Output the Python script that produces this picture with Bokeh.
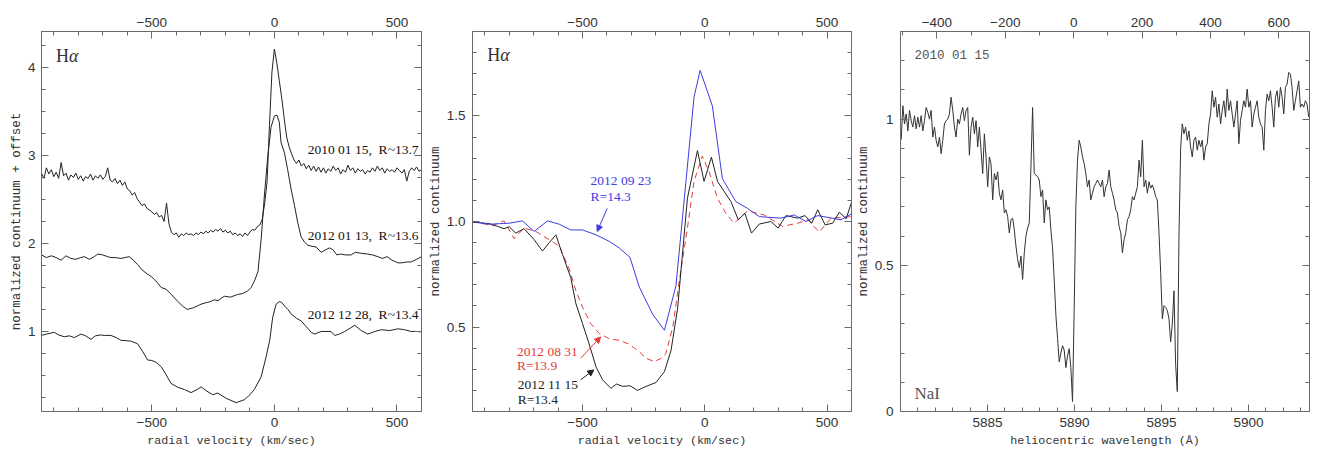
import numpy as np
from bokeh.plotting import figure
from bokeh.layouts import row
from bokeh.models import (Range1d, LinearAxis, SingleIntervalTicker, FixedTicker,
                          CustomJSTickFormatter, Label, Arrow, NormalHead)
from bokeh.embed import file_html
from bokeh.resources import INLINE

# ---------------- Panel 1 data: H-alpha, normalized continuum + offset ----------------
# 2010 01 15 spectrum sampled every 10 km/s from -950 to 600
v2010_start, v2010_step = -950, 10
flux_2010 = [
    2.80, 2.74, 2.86, 2.79, 2.84, 2.76, 2.81, 2.74, 2.92, 2.77,
    2.80, 2.72, 2.78, 2.75, 2.80, 2.73, 2.77, 2.71, 2.76, 2.74,
    2.79, 2.72, 2.77, 2.74, 2.78, 2.73, 2.76, 2.86, 2.72, 2.70,
    2.74, 2.68, 2.72, 2.66, 2.70, 2.62, 2.60, 2.55, 2.58, 2.51,
    2.47, 2.43, 2.45, 2.40, 2.38, 2.36, 2.33, 2.35, 2.30, 2.32,
    2.25, 2.46, 2.22, 2.13, 2.10, 2.12, 2.07, 2.11, 2.09, 2.12,
    2.10, 2.11, 2.09, 2.12, 2.10, 2.13, 2.11, 2.14, 2.12, 2.15,
    2.13, 2.16, 2.14, 2.17, 2.13, 2.15, 2.12, 2.14, 2.10, 2.12,
    2.09, 2.11, 2.08, 2.12, 2.09, 2.13, 2.16, 2.15, 2.19, 2.21,
    2.27, 2.45, 2.70, 3.35, 3.95, 4.21, 4.05, 3.85, 3.65, 3.42,
    3.21, 3.10, 3.02, 2.95, 2.91, 2.95, 2.88, 2.91, 2.85, 2.89,
    2.83, 2.88, 2.82, 2.87, 2.81, 2.86, 2.80, 2.85, 2.82, 2.88,
    2.83, 2.86, 2.79, 2.84, 2.81, 2.89, 2.83, 2.86, 2.80, 2.85,
    2.82, 2.84, 2.79, 2.83, 2.81, 2.86, 2.82, 2.88, 2.83, 2.86,
    2.80, 2.85, 2.82, 2.84, 2.81, 2.86, 2.83, 2.80, 2.84, 2.71,
    2.82, 2.86, 2.83, 2.87, 2.82, 2.84,
]
v_2010 = v2010_start + v2010_step * np.arange(len(flux_2010))

v_2012a = [-950, -930, -910, -890, -870, -850, -830, -810, -790, -775, -755, -735,
           -720, -700, -680, -667, -650, -626, -610, -592, -575, -558, -540, -517,
           -500, -476, -462, -442, -420, -394, -375, -356, -330, -299, -275, -260,
           -245, -230, -215, -204, -180, -150, -130, -109, -95, -82, -67, -54, -41,
           -27, -14, 0, 10, 20, 27, 41, 54, 68, 82, 95, 109, 122, 136, 150, 170, 191,
           210, 225, 238, 255, 270, 290, 313, 330, 350, 380, 400, 422, 440, 460, 480,
           504, 520, 540, 558, 580, 600]
flux_2012a = [1.87, 1.84, 1.86, 1.84, 1.81, 1.86, 1.83, 1.82, 1.84, 1.85, 1.82, 1.85,
              1.88, 1.87, 1.85, 1.84, 1.84, 1.83, 1.84, 1.85, 1.81, 1.76, 1.70, 1.65,
              1.62, 1.55, 1.50, 1.48, 1.42, 1.34, 1.29, 1.25, 1.27, 1.31, 1.33, 1.34,
              1.36, 1.35, 1.38, 1.40, 1.39, 1.42, 1.43, 1.46, 1.50, 1.57, 1.68, 2.05, 2.54,
              2.99, 3.32, 3.45, 3.46, 3.38, 3.15, 3.03, 2.84, 2.62, 2.43, 2.24, 2.075, 2.02,
              1.98, 1.97, 1.96, 1.90, 1.93, 1.95, 1.93, 1.87, 1.88, 1.87, 1.87, 1.90, 1.89,
              1.88, 1.87, 1.85, 1.83, 1.85, 1.81, 1.78, 1.78, 1.79, 1.79, 1.82, 1.85]

v_2012b = [-950, -930, -898, -880, -857, -836, -816, -789, -770, -748, -730, -710,
           -694, -667, -645, -626, -605, -585, -558, -537, -517, -500, -483, -462,
           -442, -422, -394, -367, -340, -315, -299, -280, -252, -231, -197, -156,
           -122, -100, -82, -54, -34, -19, -7, 7, 20, 30, 41, 55, 68, 90, 109, 125,
           138, 150, 164, 191, 210, 231, 246, 265, 287, 310, 328, 354, 381, 410, 436,
           470, 504, 530, 558, 580, 600]
flux_2012b = [0.955, 0.97, 0.99, 0.96, 0.94, 0.95, 0.93, 0.97, 0.95, 0.91, 0.95, 0.96,
              0.955, 0.955, 0.93, 0.90, 0.895, 0.89, 0.86, 0.77, 0.675, 0.67, 0.65, 0.60,
              0.51, 0.41, 0.365, 0.34, 0.305, 0.34, 0.37, 0.33, 0.28, 0.30, 0.24, 0.19,
              0.225, 0.28, 0.34, 0.485, 0.71, 0.90, 1.16, 1.31, 1.34, 1.33, 1.29, 1.25,
              1.20, 1.15, 1.12, 1.07, 1.03, 0.99, 0.97, 1.00, 1.00, 1.00, 0.955, 0.97,
              1.00, 1.04, 1.07, 1.01, 0.97, 1.00, 1.02, 1.01, 1.03, 1.02, 1.00, 1.00, 0.995]

labels1 = ["2010 01 15, \u00a0R~13.7", "2012 01 13, \u00a0R~13.6", "2012 12 28, \u00a0R~13.4"]
labels1_y = [3.064, 2.094, 1.198]

# ---------------- Panel 2 data: H-alpha, normalized continuum ----------------
v_0923 = [-951, -882, -800, -746, -698, -643, -595, -548, -500, -445, -391, -350,
          -306, -268, -213, -165, -118, -77, -44, -19, 31, 72, 127, 175, 223, 311,
          366, 414, 462, 557, 601]
flux_0923 = [1.000, 0.987, 0.992, 1.003, 0.953, 1.003, 0.987, 0.960, 0.960, 0.937,
             0.906, 0.875, 0.830, 0.690, 0.560, 0.485, 0.695, 1.190, 1.590, 1.716,
             1.547, 1.203, 1.094, 1.062, 1.023, 1.016, 1.031, 1.000, 1.028, 1.008, 1.037]

v_1115 = [-951, -882, -848, -821, -800, -773, -739, -698, -664, -636, -609, -582,
          -548, -527, -500, -473, -445, -418, -384, -361, -336, -306, -275, -240,
          -200, -165, -138, -111, -71, -30, -3, 27, 52, 107, 137, 164, 191, 223, 270,
          300, 332, 380, 410, 437, 462, 492, 523, 550, 578, 601]
flux_1115 = [0.997, 0.990, 0.977, 0.966, 0.975, 0.945, 0.966, 0.914, 0.860, 0.900,
             0.937, 0.844, 0.734, 0.610, 0.516, 0.420, 0.312, 0.250, 0.210, 0.230,
             0.219, 0.222, 0.200, 0.219, 0.237, 0.289, 0.390, 0.590, 1.110, 1.336,
             1.190, 1.305, 1.190, 1.094, 1.008, 1.039, 0.945, 0.988, 1.000, 0.969,
             1.028, 1.016, 1.028, 0.992, 1.055, 0.984, 0.992, 1.044, 1.013, 1.094]

v_0831 = [-951, -896, -869, -821, -780, -739, -691, -636, -595, -554, -527, -500,
          -466, -431, -391, -350, -309, -268, -240, -206, -179, -159, -131, -104,
          -71, -44, -10, 18, 52, 86, 120, 175, 243, 318, 380, 421, 468, 516, 598]
flux_0831 = [1.000, 0.987, 0.980, 1.003, 0.919, 0.969, 0.953, 0.914, 0.883, 0.774,
             0.672, 0.594, 0.516, 0.469, 0.445, 0.437, 0.419, 0.383, 0.352, 0.336,
             0.352, 0.375, 0.500, 0.720, 0.970, 1.190, 1.310, 1.234, 1.110, 1.039,
             0.992, 1.050, 1.031, 0.977, 0.992, 1.008, 0.950, 1.016, 1.023]

# ---------------- Panel 3 data: NaI D region, 2010 01 15 ----------------
na_lam_start, na_lam_step = 5880.04, 0.09557
flux_na = [
    0.930, 1.046, 0.984, 1.018, 0.960, 1.030, 0.995, 0.973, 1.012, 0.967,
    1.007, 0.973, 1.012, 0.960, 0.995, 1.040, 1.024, 1.000, 1.030, 0.939,
    0.973, 0.928, 0.905, 0.939, 0.882, 0.928, 0.984, 0.995, 1.000, 1.018,
    1.075, 1.030, 0.973, 0.939, 1.000, 0.984, 1.018, 1.040, 0.995, 1.030,
    1.040, 0.877, 0.973, 1.007, 0.950, 0.995, 0.905, 0.973, 0.894, 0.814,
    0.950, 0.871, 0.769, 0.871, 0.848, 0.724, 0.814, 0.792, 0.820, 0.747,
    0.724, 0.758, 0.679, 0.690, 0.667, 0.611, 0.656, 0.662, 0.622, 0.566,
    0.520, 0.492, 0.532, 0.452, 0.543, 0.600, 0.628, 0.645, 0.837, 1.040,
    0.814, 0.809, 0.803, 0.792, 0.735, 0.758, 0.645, 0.724, 0.690, 0.700,
    0.620, 0.560, 0.450, 0.330, 0.250, 0.170, 0.200, 0.225, 0.210, 0.150,
    0.190, 0.215, 0.150, 0.034, 0.350, 0.700, 0.860, 0.928, 0.905, 0.871,
    0.848, 0.814, 0.769, 0.792, 0.724, 0.747, 0.769, 0.780, 0.792, 0.780,
    0.769, 0.792, 0.735, 0.769, 0.780, 0.826, 0.769, 0.747, 0.724, 0.690,
    0.679, 0.633, 0.611, 0.543, 0.588, 0.611, 0.656, 0.667, 0.690, 0.735,
    0.724, 0.747, 0.769, 0.860, 0.803, 0.928, 0.769, 0.792, 0.747, 0.786,
    0.764, 0.775, 0.758, 0.735, 0.724, 0.611, 0.475, 0.317, 0.362, 0.356,
    0.345, 0.317, 0.238, 0.300, 0.413, 0.160, 0.068, 0.600, 0.900, 0.984,
    0.950, 0.973, 0.928, 0.960, 0.905, 0.871, 0.928, 0.939, 0.894, 0.928,
    0.905, 0.928, 0.860, 0.905, 0.916, 0.984, 1.018, 1.097, 1.041, 1.075,
    1.007, 1.052, 0.984, 1.030, 1.063, 1.007, 1.103, 1.030, 1.063, 1.018,
    0.973, 1.018, 1.063, 0.916, 0.995, 1.030, 1.063, 1.041, 1.103, 1.041,
    1.063, 0.973, 1.018, 1.041, 1.063, 1.007, 0.984, 0.973, 0.894, 1.030,
    1.086, 1.063, 1.097, 1.041, 0.973, 1.075, 1.097, 1.041, 1.109, 1.075,
    1.018, 1.109, 1.120, 1.160, 1.154, 1.109, 1.030, 1.063, 1.097, 1.131,
    1.041, 1.052, 1.041, 1.063, 1.052, 1.007,
]
lam_na = na_lam_start + na_lam_step * np.arange(len(flux_na))

lam_major = [5885, 5890, 5895, 5900]
lam_minor = [5881, 5882, 5883, 5884, 5886, 5887, 5888, 5889, 5891, 5892, 5893, 5894,
             5896, 5897, 5898, 5899, 5901, 5902, 5903]

C_KMS = 299792.458
NA_D2 = 5889.95

# ---------------- styling helpers ----------------
FRAME = "#6a6a6a"
TXT = "#333333"
TICKFONT = "Liberation Sans"
LABFONT = "Liberation Mono"
BLUE = "#3c3ce0"
RED = "#e43c3c"
INK = "#222222"
FIG_H = 450


def fmt_signed():
    return CustomJSTickFormatter(code="return String(Math.round(tick*100)/100).replace('-', '\u2212');")


def fmt_fixed1():
    return CustomJSTickFormatter(code="return tick.toFixed(1);")


def fmt_blank():
    return CustomJSTickFormatter(code="return '';")


def style_axis(ax, ticker, fmt, standoff=5, lab_standoff=1, lab_size="12.5px"):
    ax.ticker = ticker
    ax.formatter = fmt
    ax.axis_line_color = FRAME
    ax.major_tick_line_color = FRAME
    ax.minor_tick_line_color = FRAME
    ax.major_tick_in = 7
    ax.major_tick_out = 0
    ax.minor_tick_in = 4
    ax.minor_tick_out = 0
    ax.major_label_text_font = TICKFONT
    ax.major_label_text_font_size = "13.5px"
    ax.major_label_text_color = TXT
    ax.major_label_standoff = standoff
    ax.axis_label_text_font = LABFONT
    ax.axis_label_text_font_style = "normal"
    ax.axis_label_text_font_size = lab_size
    ax.axis_label_text_color = TXT
    ax.axis_label_standoff = lab_standoff


def tk(interval, minor):
    return SingleIntervalTicker(interval=interval, num_minor_ticks=minor)


def make_fig(width, xr, yr, ml, mr, mt, mb):
    p = figure(width=width, height=FIG_H, x_range=xr, y_range=yr,
               output_backend="svg", toolbar_location=None, tools="",
               min_border_left=ml, min_border_right=mr,
               min_border_top=mt, min_border_bottom=mb)
    p.grid.visible = False
    p.outline_line_color = FRAME
    p.outline_line_width = 1
    p.background_fill_color = "white"
    p.border_fill_color = "white"
    return p


XLAB = "11.7px"

# ---------------- Panel 1 ----------------
p1 = make_fig(424, Range1d(-950, 600), Range1d(0.09, 4.41), 41, 3, 27, 38)
style_axis(p1.xaxis[0], tk(500, 5), fmt_signed(), 6, 4, XLAB)
p1.xaxis[0].axis_label = "radial velocity (km/sec)"
style_axis(p1.yaxis[0], tk(1, 4), fmt_signed(), 6, 1)
p1.yaxis[0].axis_label = "normalized continuum + offset"
top1 = LinearAxis()
style_axis(top1, tk(500, 5), fmt_signed(), 5)
p1.add_layout(top1, "above")
right1 = LinearAxis()
style_axis(right1, tk(1, 4), fmt_blank(), 0, 0)
p1.add_layout(right1, "right")

p1.line(v_2010, flux_2010, line_color=INK, line_width=1)
p1.line(v_2012a, flux_2012a, line_color=INK, line_width=1)
p1.line(v_2012b, flux_2012b, line_color=INK, line_width=1)
for t, y in zip(labels1, labels1_y):
    p1.add_layout(Label(x=588, y=y, text=t, text_align="right", text_baseline="middle",
                        text_font="Liberation Serif", text_font_size="13.5px", text_color="#111111"))
p1.add_layout(Label(x=-891, y=4.135, text="H", text_baseline="middle",
                    text_font="Liberation Serif", text_font_size="18px", text_color=TXT))
p1.add_layout(Label(x=-891, y=4.135, x_offset=13, text="\u03b1", text_baseline="middle",
                    text_font="Liberation Serif", text_font_style="italic",
                    text_font_size="18px", text_color=TXT))

# ---------------- Panel 2 ----------------
p2 = make_fig(429, Range1d(-950, 600), Range1d(0.1, 1.9), 48, 2, 27, 38)
style_axis(p2.xaxis[0], tk(500, 5), fmt_signed(), 6, 4, XLAB)
p2.xaxis[0].axis_label = "radial velocity (km/sec)"
style_axis(p2.yaxis[0], tk(0.5, 5), fmt_fixed1(), 7, 1)
p2.yaxis[0].axis_label = "normalized continuum"
top2 = LinearAxis()
style_axis(top2, tk(500, 5), fmt_signed(), 5)
p2.add_layout(top2, "above")
right2 = LinearAxis()
style_axis(right2, tk(0.5, 5), fmt_blank(), 0, 0)
p2.add_layout(right2, "right")

p2.line(v_0831, flux_0831, line_color=RED, line_width=1, line_dash="6 4")
p2.line(v_1115, flux_1115, line_color=INK, line_width=1)
p2.line(v_0923, flux_0923, line_color=BLUE, line_width=1)

for txt, x, y, c in [("2012 09 23", -467, 1.192, BLUE), ("R=14.3", -467, 1.118, BLUE),
                     ("2012 08 31", -768, 0.384, RED), ("R=13.9", -768, 0.316, RED),
                     ("2012 11 15", -765, 0.228, INK), ("R=13.4", -765, 0.159, INK)]:
    p2.add_layout(Label(x=x, y=y, text=txt, text_baseline="middle",
                        text_font="Liberation Serif", text_font_size="13.5px", text_color=c))
for (x0, y0, x1, y1), c in [((-399, 1.062, -440, 0.953), BLUE),
                            ((-508, 0.352, -426, 0.453), RED),
                            ((-508, 0.250, -454, 0.297), INK)]:
    p2.add_layout(Arrow(end=NormalHead(size=6, line_color=c, fill_color=c, line_width=1),
                        x_start=x0, y_start=y0, x_end=x1, y_end=y1,
                        line_color=c, line_width=1))
p2.add_layout(Label(x=-890, y=1.79, text="H", text_baseline="middle",
                    text_font="Liberation Serif", text_font_size="18px", text_color=TXT))
p2.add_layout(Label(x=-890, y=1.79, x_offset=13, text="\u03b1", text_baseline="middle",
                    text_font="Liberation Serif", text_font_style="italic",
                    text_font_size="18px", text_color=TXT))

# ---------------- Panel 3 ----------------
lam_lo, lam_hi = 5880.0, 5903.5
p3 = make_fig(459, Range1d(lam_lo, lam_hi), Range1d(0, 1.3), 46, 3, 31, 37)
p3.extra_x_ranges = {"vel": Range1d((lam_lo - NA_D2) / NA_D2 * C_KMS,
                                    (lam_hi - NA_D2) / NA_D2 * C_KMS)}
style_axis(p3.xaxis[0], FixedTicker(ticks=lam_major, minor_ticks=lam_minor), fmt_signed(), 6, 4, XLAB)
p3.xaxis[0].axis_label = "heliocentric wavelength (\u00c5)"
style_axis(p3.yaxis[0], tk(0.5, 5), fmt_signed(), 7, 1)
p3.yaxis[0].axis_label = "normalized continuum"
top3 = LinearAxis(x_range_name="vel")
style_axis(top3, tk(200, 2), fmt_signed(), 5)
p3.add_layout(top3, "above")
right3 = LinearAxis()
style_axis(right3, tk(0.5, 5), fmt_blank(), 0, 0)
p3.add_layout(right3, "right")

p3.line(lam_na, flux_na, line_color="#333333", line_width=1)
p3.add_layout(Label(x=5880.8, y=1.217, text="2010 01 15", text_baseline="middle",
                    text_font=LABFONT, text_font_size="12.5px", text_color="#555555"))
p3.add_layout(Label(x=5880.8, y=0.062, text="NaI", text_baseline="middle",
                    text_font="Liberation Serif", text_font_size="17px", text_color="#555555"))

layout = row(p1, p2, p3, spacing=0)
open("out.html", "w").write(file_html(layout, INLINE))
